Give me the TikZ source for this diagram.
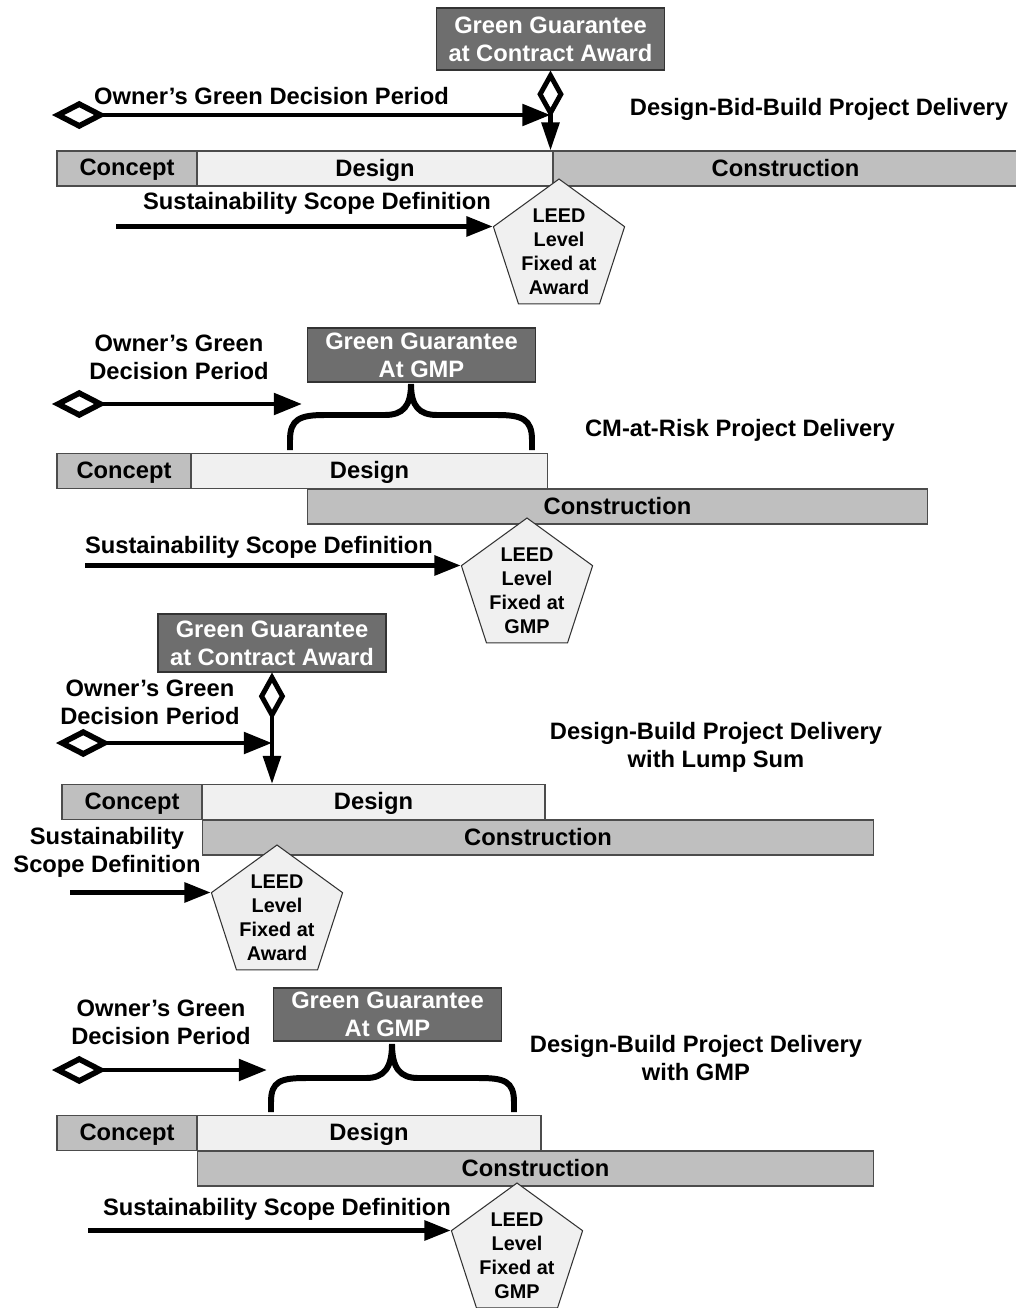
\documentclass[tikz,border=0pt]{standalone}
\usepackage{fontspec}
\setmainfont{Liberation Sans}
\usetikzlibrary{arrows.meta, shapes.geometric}

\newcommand{\txtfont}{\fontsize{13.5}{15.9}\selectfont\bfseries}
\newcommand{\leedfont}{\fontsize{11.3}{13.7}\selectfont\bfseries}

\tikzset{
  phase/.style={draw=black!70, line width=0.6pt, minimum height=0.7cm, inner sep=0pt,
    text depth=0.2ex, font=\txtfont},
  graybar/.style={phase, fill=black!25},
  lightbar/.style={phase, fill=black!6},
  guarantee/.style={draw=black!80, line width=0.6pt, fill=black!57, text=white, align=center,
    font=\txtfont, inner sep=0pt, minimum width=4.56cm},
  leed/.style={regular polygon, regular polygon sides=5, draw=black!80, line width=0.6pt,
    fill=black!6, minimum size=2.76cm, inner sep=0pt},
  leedtext/.style={align=center, font=\leedfont, yshift=-2pt},
  caption/.style={align=center, font=\txtfont},
  decision/.style={line width=2.8pt,
    {Diamond[open,length=31pt,width=16pt,line width=3.2pt]}-{Triangle[length=16pt,width=12pt]}},
  gate/.style={line width=2.4pt,
    {Diamond[open,length=27pt,width=15pt,line width=2.8pt]}-{Triangle[length=16pt,width=10pt]}},
  scopearrow/.style={line width=2.8pt, -{Triangle[length=15pt,width=11pt]}},
  bracket/.style={line width=3.4pt}
}

\begin{document}
\begin{tikzpicture}[x=0.02cm, y=-0.02cm]
  \useasboundingbox (0,0) rectangle (1016,1308);

  % ---- Design-Bid-Build
  \node[graybar, minimum width=2.8cm] (concept1) at (127,168.5) {Concept};
  \node[lightbar, minimum width=7.12cm] (design1) at (375,168.5) {Design};
  \node[graybar, minimum width=9.3cm] (build1) at (785.5,168.5) {Construction};
  \node[guarantee, minimum height=1.24cm] (gg1) at (550.5,39) {Green Guarantee\\at Contract Award};
  \node[caption, anchor=west] (owner1) at (88,96) {Owner’s Green Decision Period};
  \node[caption] (title1) at (819,109) {Design-Bid-Build Project Delivery};
  \node[caption] (sus1) at (317,203) {Sustainability Scope Definition};
  \node[leed, label={[leedtext]center:{LEED\\Level\\Fixed at\\Award}}] (leed1) at (559,248) {};
  \coordinate (od1) at (52,115);
  \coordinate (sc1) at (116,0);
  \draw[gate] (gg1.south) -- (gg1.south |- design1.north);
  \draw[decision] (od1) -- (gg1.south |- od1);
  \draw[scopearrow] (sc1 |- leed1.162) -- (leed1.162);

  % ---- CM-at-Risk
  \node[graybar, minimum width=2.68cm] (concept2) at (124,471) {Concept};
  \node[lightbar, minimum width=7.14cm] (design2) at (369.5,471) {Design};
  \node[graybar, minimum width=12.42cm] (build2) at (617.5,506.5) {Construction};
  \node[guarantee, minimum height=1.08cm] (gg2) at (421.5,355) {Green Guarantee\\At GMP};
  \node[caption] (owner2) at (179,357) {Owner’s Green\\Decision Period};
  \node[caption] (title2) at (740,430) {CM-at-Risk Project Delivery};
  \node[caption] (sus2) at (259,547) {Sustainability Scope Definition};
  \node[leed, label={[leedtext]center:{LEED\\Level\\Fixed at\\GMP}}] (leed2) at (527,587) {};
  \coordinate (od2) at (52,404);
  \coordinate (oe2) at (302,404);
  \coordinate (sc2) at (85,0);
  \draw[decision] (od2) -- (oe2);
  \draw[scopearrow] (sc2 |- leed2.162) -- (leed2.162);
  % brace under the GMP box
  \draw[bracket] (290,450) -- (290,440) .. controls (290,419) and (300,415) .. (325,415)
    -- (385,415) .. controls (403,415) and (411,406) .. (411,384)
    .. controls (411,406) and (419,415) .. (437,415) -- (497,415)
    .. controls (522,415) and (532,419) .. (532,440) -- (532,450);

  % ---- Design-Build, lump sum
  \node[graybar, minimum width=2.8cm] (concept3) at (132,802) {Concept};
  \node[lightbar, minimum width=6.86cm] (design3) at (373.5,802) {Design};
  \node[graybar, minimum width=13.44cm] (build3) at (538,837.5) {Construction};
  \node[guarantee, minimum height=1.16cm] (gg3) at (272,643) {Green Guarantee\\at Contract Award};
  \node[caption] (owner3) at (150,702) {Owner’s Green\\Decision Period};
  \node[caption] (title3) at (716,747) {Design-Build Project Delivery\\with Lump Sum};
  \node[caption] (sus3) at (107,852) {Sustainability\\Scope Definition};
  \node[leed, label={[leedtext]center:{LEED\\Level\\Fixed at\\Award}}] (leed3) at (277,914) {};
  \coordinate (od3) at (56,743);
  \coordinate (sc3) at (70,0);
  \draw[gate] (gg3.south) -- (gg3.south |- design3.north);
  \draw[decision] (od3) -- (gg3.south |- od3);
  \draw[scopearrow] (sc3 |- leed3.162) -- (leed3.162);

  % ---- Design-Build, GMP
  \node[graybar, minimum width=2.8cm] (concept4) at (127,1133) {Concept};
  \node[lightbar, minimum width=6.88cm] (design4) at (369,1133) {Design};
  \node[graybar, minimum width=13.54cm] (build4) at (535.5,1168.5) {Construction};
  \node[guarantee, minimum height=1.06cm] (gg4) at (387.5,1014.5) {Green Guarantee\\At GMP};
  \node[caption] (owner4) at (161,1022) {Owner’s Green\\Decision Period};
  \node[caption] (title4) at (696,1058) {Design-Build Project Delivery\\with GMP};
  \node[caption] (sus4) at (277,1209) {Sustainability Scope Definition};
  \node[leed, label={[leedtext]center:{LEED\\Level\\Fixed at\\GMP}}] (leed4) at (517,1252) {};
  \coordinate (od4) at (52,1070);
  \coordinate (oe4) at (267,1070);
  \coordinate (sc4) at (88,0);
  \draw[decision] (od4) -- (oe4);
  \draw[scopearrow] (sc4 |- leed4.162) -- (leed4.162);
  % brace under the GMP box
  \draw[bracket] (271,1112) -- (271,1102) .. controls (271,1081) and (281,1078) .. (306,1078)
    -- (366,1078) .. controls (384,1078) and (392,1068) .. (392,1044)
    .. controls (392,1068) and (400,1078) .. (418,1078) -- (479,1078)
    .. controls (504,1078) and (514,1081) .. (514,1102) -- (514,1112);
\end{tikzpicture}
\end{document}
